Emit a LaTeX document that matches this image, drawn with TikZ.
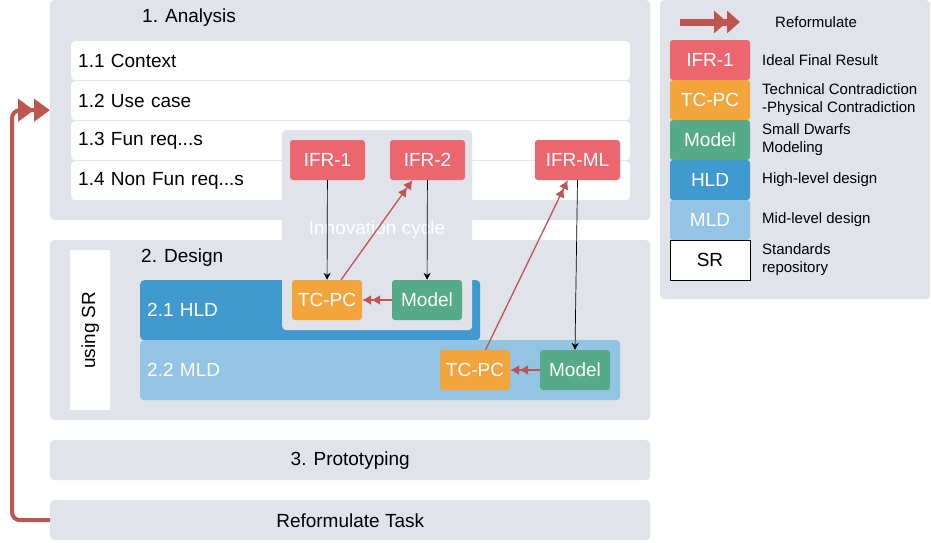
\documentclass[tikz,border=0pt]{standalone}
\usepackage{fontspec}
\setmainfont{Liberation Sans}
\usetikzlibrary{arrows.meta,calc}
\definecolor{panelgray}{RGB}{224,227,234}
\definecolor{ifrred}{RGB}{236,102,112}
\definecolor{tcorange}{RGB}{242,165,60}
\definecolor{modelgreen}{RGB}{84,170,137}
\definecolor{hldblue}{RGB}{64,154,208}
\definecolor{mldblue}{RGB}{147,196,227}
\definecolor{loopred}{RGB}{190,85,80}
\newcommand\reqdots{...}
\tikzset{
  panel/.style={fill=panelgray, rounded corners=4pt, anchor=north west},
  row/.style={fill=white, rounded corners=4pt, anchor=north west,
    minimum width=559, minimum height=39, text width=545, inner xsep=7pt, align=left},
  tag/.style={rounded corners=3pt, text=white, minimum width=70, minimum height=40},
  flow/.style={-{Stealth[length=7pt,width=7pt]}, line width=0.7pt},
  reform/.style={loopred, line width=1.3pt, -{Latex[length=9pt,width=10pt]Latex[length=9pt,width=10pt]}},
  big reform/.style={loopred, line width=4pt, rounded corners=8pt,
    -{Triangle[length=16pt,width=22pt]Triangle[length=16pt,width=22pt]}},
  legend text/.style={anchor=west, align=left, font=\fontsize{15}{18}\selectfont}
}
\begin{document}
\begin{tikzpicture}[x=1pt, y=-1pt, every node/.style={font=\fontsize{19}{22}\selectfont, inner sep=0pt}]
  \useasboundingbox (0,0) rectangle (931,542);
  \node[panel, name=analysis, minimum width=600, minimum height=220] at (50,0) {};
  \node[name=analysistitle, anchor=west] at (142,18) {1. Analysis};
  \foreach \i/\txt in {1/1.1 Context, 2/1.2 Use case, 3/1.3 Fun req\reqdots s, 4/1.4 Non Fun req\reqdots s}
    \node[row, name=row\i] at (71,1+40*\i) {\txt};
  \node[panel, name=design, minimum width=600, minimum height=180] at (50,240) {};
  \node[name=designtitle, anchor=west] at (141,258) {2. Design};
  \node[fill=white, anchor=north west, minimum width=40, minimum height=160, name=sr] at (70,250) {};
  \node[rotate=90, name=srtext] at (sr.center) {using SR};
  \node[panel, fill=hldblue, name=hld, minimum width=340, minimum height=60, text=white,
    text width=326, inner xsep=7pt, align=left] at (140,280) {2.1 HLD};
  \node[panel, fill=mldblue, name=mld, minimum width=480, minimum height=60, text=white,
    text width=466, inner xsep=7pt, align=left] at (140,340) {2.2 MLD};
  \node[panel, name=cycle, minimum width=190, minimum height=200] at (282,130) {};
  \node[text=white, name=cycletext] at (377,230) {Innovation cycle};
  \node[panel, name=proto, minimum width=600, minimum height=40] at (50,440) {};
  \node[name=prototext] at (proto.center) {3. Prototyping};
  \node[panel, name=task, minimum width=600, minimum height=40] at (50,500) {};
  \node[name=tasktext] at (task.center) {Reformulate Task};
  \draw[big reform] (task.west) -- ++(-38,0) |- (analysis.west);
  \node[tag, fill=ifrred, minimum width=75, name=ifr1] at (327.5,160) {IFR-1};
  \node[tag, fill=ifrred, minimum width=75, name=ifr2] at (427.5,160) {IFR-2};
  \node[tag, fill=ifrred, minimum width=85, name=ifrml] at (577.5,160) {IFR-ML};
  \node[tag, fill=tcorange, name=tcpc1] at (327,300) {TC-PC};
  \node[tag, fill=modelgreen, name=model1] at (427,300) {Model};
  \node[tag, fill=tcorange, name=tcpc2] at (475,370) {TC-PC};
  \node[tag, fill=modelgreen, name=model2] at (575,370) {Model};
  \draw[flow] (ifr1) -- (tcpc1);
  \draw[flow] (ifr2) -- (model1);
  \draw[flow] (ifrml.south) -- (model2.north);
  \draw[reform] (model1) -- (tcpc1);
  \draw[reform] (model2) -- (tcpc2);
  \draw[reform] ($(tcpc1.north)!0.4!(tcpc1.north east)$) -- ($(ifr2.south west)!0.6!(ifr2.south)$);
  \draw[reform] ($(tcpc2.north)!0.3!(tcpc2.north east)$) -- ($(ifrml.south west)!0.77!(ifrml.south)$);
  \node[panel, name=legend, minimum width=270, minimum height=299] at (660,0) {};
  \coordinate (legendstart) at (680,22);
  \draw[loopred, line width=7pt, -{Triangle[length=13pt,width=22pt]Triangle[length=13pt,width=22pt]}]
    (legendstart) -- ++(60,0);
  \node[legend text, name=reformtext] at (775,22) {Reformulate};
  \foreach \i/\tg/\col/\desc in {1/IFR-1/ifrred/Ideal Final Result,
      2/TC-PC/tcorange/{Technical Contradiction\\-Physical Contradiction},
      3/Model/modelgreen/{Small Dwarfs\\Modeling}, 4/HLD/hldblue/High-level design,
      5/MLD/mldblue/Mid-level design} {
    \node[tag, fill=\col, minimum width=80, name=key\i] at (710,20+40*\i) {\tg};
    \node[legend text, name=keytext\i] at (762,20+40*\i) {\desc};
  }
  \node[draw=black, fill=white, minimum width=80, minimum height=40, name=key6] at (710,260) {SR};
  \node[legend text, name=keytext6] at (762,260) {Standards\\repository};
\end{tikzpicture}
\end{document}
